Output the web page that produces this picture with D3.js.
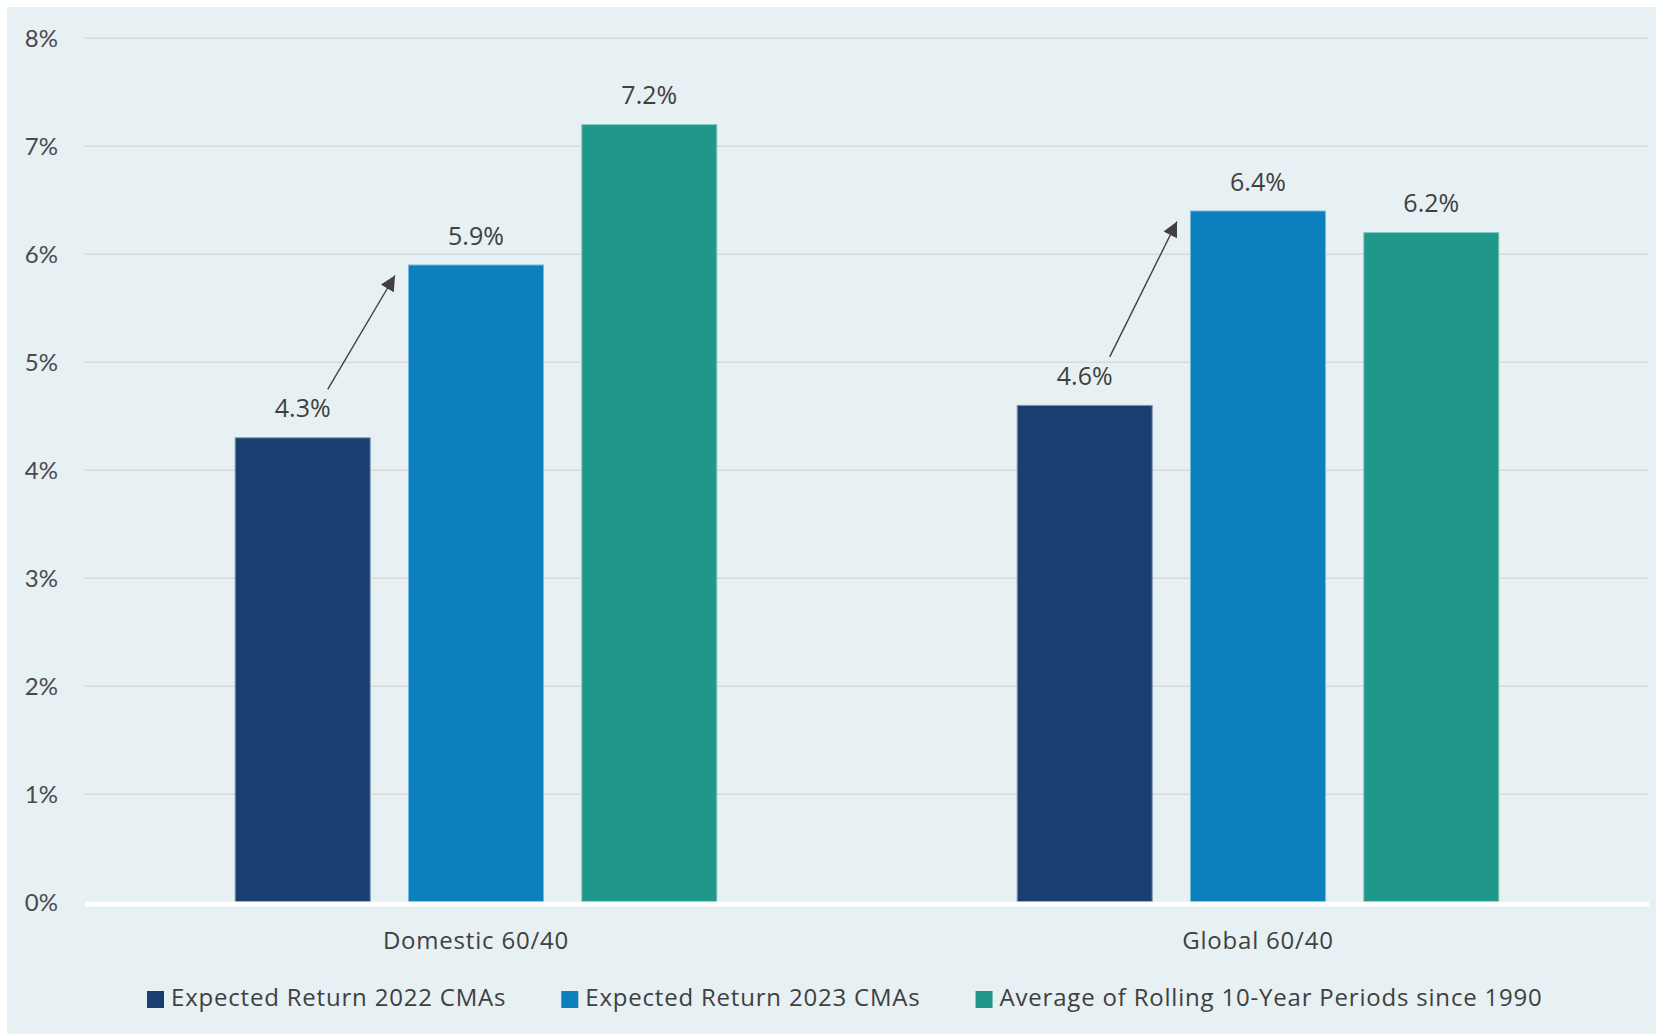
<!DOCTYPE html>
<html>
<head>
<meta charset="utf-8">
<script src="https://cdn.jsdelivr.net/npm/d3@7"></script>
<style>
  html, body { margin: 0; padding: 0; background: #ffffff; }
  svg { display: block; }
</style>
</head>
<body>
<svg id="chart" width="1656" height="1034"></svg>
<script>
// Portfolio groups and series
const categories = ["Domestic 60/40", "Global 60/40"];
const seriesNames = [
  "Expected Return 2022 CMAs",
  "Expected Return 2023 CMAs",
  "Average of Rolling 10-Year Periods since 1990"
];
const seriesColors = ["#183f70", "#0b80bd", "#1f988a"];
const expected2022 = [4.3, 4.6];
const expected2023 = [5.9, 6.4];
const rolling10yr = [7.2, 6.2];
const yTicks = [0, 1, 2, 3, 4, 5, 6, 7, 8];

const seriesValues = [expected2022, expected2023, rolling10yr];

const W = 1656, H = 1034;
const plot = { left: 85, right: 1649, top: 37.7, bottom: 901.7 };

const svg = d3.select("#chart");

// panel background
svg.append("rect")
  .attr("x", 7).attr("y", 7)
  .attr("width", W - 7).attr("height", H - 7)
  .attr("fill", "#e7f0f3");

const y = d3.scaleLinear().domain([0, 8]).range([plot.bottom, plot.top]);

const x0 = d3.scaleBand()
  .domain(categories)
  .range([plot.left, plot.right])
  .paddingInner(0).paddingOuter(0);

const groupPad = 149.7;
const x1 = d3.scaleBand()
  .domain(d3.range(seriesNames.length))
  .range([groupPad, x0.bandwidth() - groupPad])
  .paddingInner(0.215).paddingOuter(0);

// gridlines + tick labels
const yAxis = d3.axisLeft(y)
  .tickValues(yTicks)
  .tickSize(-(plot.right - plot.left))
  .tickPadding(27)
  .tickFormat(d => d + "%");

const gAxis = svg.append("g")
  .attr("transform", `translate(${plot.left},0)`)
  .call(yAxis);
gAxis.select(".domain").remove();
gAxis.selectAll(".tick line")
  .attr("stroke", "#d8d9db")
  .attr("stroke-width", 1.6)
  .attr("opacity", d => d === 0 ? 0 : 1);
gAxis.selectAll(".tick text")
  .attr("fill", "#4a4a4a")
  .attr("font-family", "Lato, 'Open Sans', sans-serif")
  .attr("font-size", 24)
  .attr("dy", "0.35em");

// bars
const rows = [];
categories.forEach((c, ci) => {
  seriesValues.forEach((vals, si) => {
    rows.push({ cat: c, ci, si, value: vals[ci] });
  });
});

const edge = c => d3.interpolateRgb(c, "#ffffff")(0.45);

const gBars = svg.append("g");
gBars.selectAll("rect")
  .data(rows)
  .join("rect")
  .attr("x", d => x0(d.cat) + x1(d.si) + 0.5)
  .attr("y", d => y(d.value) + 0.5)
  .attr("width", x1.bandwidth() - 1)
  .attr("height", d => y(0) - y(d.value) - 0.5)
  .attr("fill", d => seriesColors[d.si])
  .attr("stroke", d => edge(seriesColors[d.si]))
  .attr("stroke-width", 1);

// value labels
svg.append("g").selectAll("text")
  .data(rows)
  .join("text")
  .attr("x", d => x0(d.cat) + x1(d.si) + x1.bandwidth() / 2)
  .attr("y", d => y(d.value) - 20)
  .attr("text-anchor", "middle")
  .attr("fill", "#404040")
  .attr("font-family", "'Open Sans', sans-serif")
  .attr("font-size", 25)
  .text(d => d.value.toFixed(1) + "%");

// zero baseline
svg.append("rect")
  .attr("x", plot.left)
  .attr("y", y(0))
  .attr("width", plot.right - plot.left)
  .attr("height", 5)
  .attr("fill", "#ffffff");

// arrows from 2022 label to the 2023 bar
const defs = svg.append("defs");
defs.append("marker")
  .attr("id", "arrowHead")
  .attr("viewBox", "0 0 10 10")
  .attr("refX", 10).attr("refY", 5)
  .attr("markerUnits", "userSpaceOnUse")
  .attr("markerWidth", 17).attr("markerHeight", 15)
  .attr("orient", "auto")
  .append("path")
  .attr("d", "M0,0 L10,5 L0,10 Z")
  .attr("fill", "#404040");

svg.append("g").selectAll("line")
  .data(categories)
  .join("line")
  .attr("x1", (c, i) => x0(c) + x1(0) + x1.bandwidth() / 2 + 25)
  .attr("y1", (c, i) => y(expected2022[i]) - 48)
  .attr("x2", (c, i) => x0(c) + x1(1) - 13)
  .attr("y2", (c, i) => y(expected2023[i]) + 11)
  .attr("stroke", "#404040")
  .attr("stroke-width", 1.4)
  .attr("marker-end", "url(#arrowHead)");

// category labels
svg.append("g").selectAll("text")
  .data(categories)
  .join("text")
  .attr("x", c => x0(c) + x0.bandwidth() / 2)
  .attr("y", 949.3)
  .attr("text-anchor", "middle")
  .attr("fill", "#404040")
  .attr("font-family", "'Open Sans', sans-serif")
  .attr("font-size", 24)
  .attr("letter-spacing", "0.8px")
  .text(c => c);

// legend
const legend = svg.append("g");
let lx = 147;
seriesNames.forEach((name, i) => {
  legend.append("rect")
    .attr("x", lx).attr("y", 991)
    .attr("width", 17).attr("height", 17)
    .attr("fill", seriesColors[i]);
  const t = legend.append("text")
    .attr("x", lx + 24).attr("y", 1006)
    .attr("fill", "#404040")
    .attr("font-family", "'Open Sans', sans-serif")
    .attr("font-size", 24)
    .attr("letter-spacing", "0.8px")
    .text(name);
  lx += 24 + t.node().getComputedTextLength() + 55;
});
</script>
</body>
</html>
